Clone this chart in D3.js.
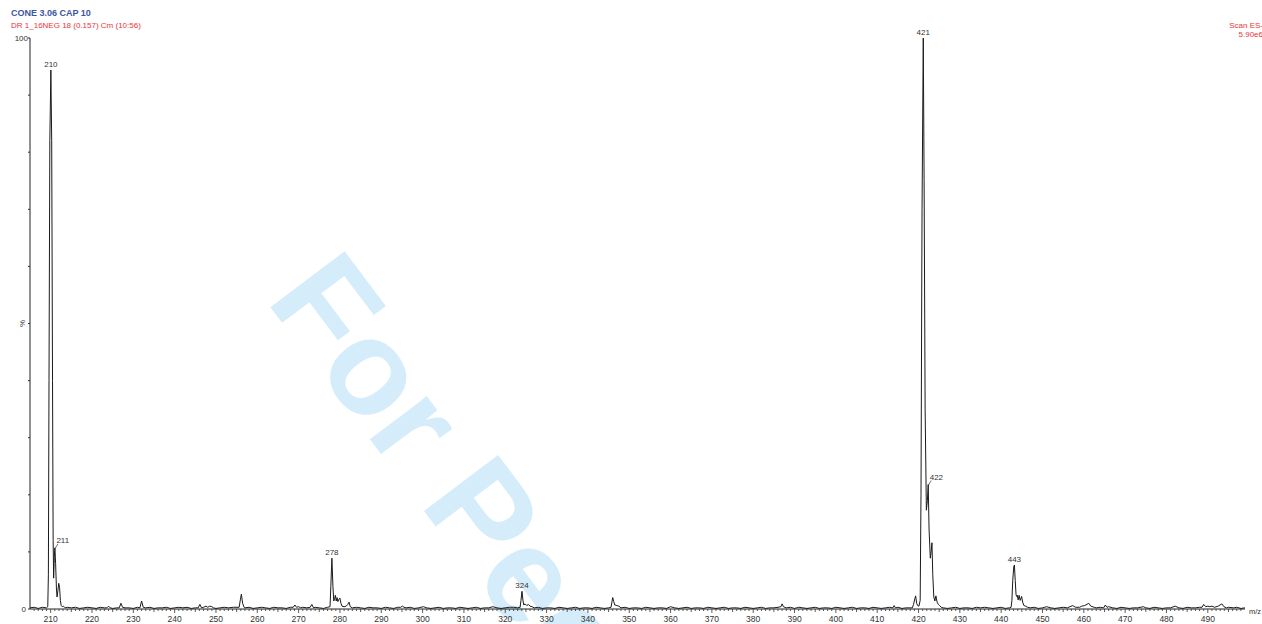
<!DOCTYPE html>
<html>
<head>
<meta charset="utf-8">
<script src="https://cdn.jsdelivr.net/npm/d3@7"></script>
<style>
  html, body { margin: 0; padding: 0; background: #fff; }
  svg { display: block; font-family: "Liberation Sans", Arial, sans-serif; }
</style>
</head>
<body>
<svg id="chart" width="1262" height="624"></svg>
<script>
// Negative-ion ESI scan, m/z vs relative intensity (%)
const titleLine = "CONE 3.06 CAP 10";
const sampleLine = "DR 1_16NEG 18 (0.157) Cm (10:56)";
const scanLines = ["Scan ES-", "5.90e6"];

// profile points: [m/z, relative intensity %]
const spectrum = [
  [205.0,0.2],[206.0,0.3],[207.0,0.1],[208.0,0.3],[209.0,0.2],
  [209.3,0.4],[209.45,6],[209.6,40],[209.8,82],[210.05,94.4],[210.25,82],[210.45,40],[210.6,12],[210.72,5.4],
  [210.88,9],[211.02,10.7],[211.2,8],[211.4,3.5],[211.55,2.1],[211.75,3.2],[211.95,4.5],[212.15,3.8],
  [212.35,1.5],[212.55,0.6],[212.8,0.4],[213.1,0.5],[213.5,0.2],
  [214.0,0.3],[215.0,0.2],[216.0,0.3],[217.0,0.1],[218.0,0.2],[219.0,0.3],[220.0,0.2],[221.0,0.1],[222.0,0.3],[223.0,0.2],
  [223.6,0.2],[224.0,0.5],[224.4,0.2],[225.0,0.1],[226.0,0.2],
  [226.6,0.2],[227.0,1.0],[227.4,0.3],[228.0,0.2],[229.0,0.2],[230.0,0.1],[231.0,0.3],
  [231.6,0.2],[232.0,1.4],[232.4,0.3],[233.0,0.2],[234.0,0.3],[235.0,0.1],[236.0,0.2],[237.0,0.2],[238.0,0.3],
  [239.0,0.1],[240.0,0.2],[241.0,0.3],[242.0,0.2],[243.0,0.3],[244.0,0.1],[245.0,0.2],
  [245.7,0.2],[246.1,0.8],[246.5,0.2],[247.0,0.3],[247.6,0.5],[248.0,0.3],[248.5,0.5],[249.0,0.4],[249.4,0.2],
  [250.0,0.1],[251.0,0.2],[252.0,0.3],[253.0,0.2],[254.2,0.3],
  [255.6,0.3],[255.9,1.6],[256.15,2.6],[256.45,1.0],[256.8,0.3],[257.0,0.2],[258.0,0.3],[259.0,0.1],[260.0,0.2],
  [261.0,0.3],[262.0,0.2],[263.0,0.1],[264.0,0.3],[265.0,0.2],[266.0,0.2],[267.0,0.1],[268.0,0.3],
  [268.7,0.3],[269.1,0.7],[269.5,0.3],[270.0,0.4],[270.5,0.2],[271.0,0.3],[272.0,0.2],
  [272.8,0.3],[273.2,0.8],[273.6,0.2],[274.0,0.3],[275.0,0.2],[276.0,0.1],[277.0,0.3],
  [277.6,0.4],[277.8,4],[278.05,8.9],[278.3,4],[278.5,1.4],[278.7,1.8],[278.9,2.4],[279.1,1.4],[279.3,2.0],
  [279.5,1.3],[279.75,1.7],[280.0,1.9],[280.25,1.0],[280.5,0.5],[281.0,0.4],[281.5,0.5],[281.9,0.8],[282.2,1.2],
  [282.5,0.4],[283.0,0.2],[284.0,0.3],[285.0,0.2],[286.0,0.1],[287.0,0.3],[288.0,0.2],[289.0,0.2],[290.0,0.1],
  [291.0,0.3],[292.0,0.2],[293.0,0.1],[294.0,0.3],[294.7,0.3],[295.1,0.5],[295.5,0.3],[296.0,0.2],[297.0,0.3],
  [298.0,0.1],[299.0,0.2],[300.2,0.4],[301.0,0.2],[302.0,0.1],[303.0,0.2],[304.0,0.3],[305.0,0.1],[306.0,0.2],
  [307.0,0.2],[308.0,0.1],[309.0,0.3],[310.0,0.2],[311.0,0.1],[312.0,0.2],[313.0,0.3],[314.0,0.1],[315.0,0.2],
  [316.0,0.2],[317.0,0.4],[318.0,0.2],[319.0,0.1],[320.0,0.2],[321.0,0.3],[322.0,0.3],[323.0,0.2],
  [323.6,0.3],[323.8,1.5],[324.05,3.1],[324.3,1.4],[324.5,0.7],[324.8,0.9],[325.2,0.6],[325.6,0.8],[326.0,0.5],
  [326.5,0.4],[327.0,0.2],[328.0,0.3],[329.0,0.1],[330.0,0.2],[331.0,0.2],[332.0,0.1],[333.0,0.3],[334.0,0.2],
  [335.0,0.1],[336.0,0.2],[337.0,0.3],[338.0,0.1],[339.0,0.2],[340.0,0.2],[341.0,0.1],[342.0,0.3],[343.0,0.2],
  [344.0,0.1],[345.0,0.2],[345.6,0.3],[345.8,1.2],[346.0,2.0],[346.25,1.3],[346.5,0.7],[347.0,0.6],[347.5,0.5],
  [348.0,0.2],[349.0,0.3],[350.0,0.1],[351.0,0.2],[352.0,0.2],[353.0,0.1],[354.0,0.3],[355.0,0.2],[356.0,0.1],
  [357.0,0.2],[358.0,0.2],[359.0,0.1],[360.0,0.4],[361.0,0.2],[362.0,0.1],[363.0,0.2],[364.0,0.3],[365.0,0.1],
  [366.0,0.2],[367.0,0.2],[368.0,0.1],[369.0,0.3],[370.0,0.2],[371.0,0.1],[372.0,0.2],[373.0,0.3],[374.0,0.1],
  [375.0,0.2],[376.0,0.2],[377.0,0.1],[378.0,0.3],[379.0,0.2],[380.0,0.1],[381.0,0.2],[382.0,0.3],[383.0,0.1],
  [384.0,0.2],[385.0,0.2],[386.0,0.3],[386.7,0.4],[387.0,0.9],[387.3,0.4],[388.0,0.2],[389.0,0.3],[390.0,0.1],
  [391.0,0.3],[392.0,0.2],[393.0,0.1],[394.0,0.2],[395.0,0.3],[396.0,0.1],[397.0,0.2],[398.0,0.2],[399.0,0.1],
  [400.0,0.3],[401.0,0.2],[402.0,0.1],[403.0,0.2],[404.0,0.3],[405.0,0.1],[406.0,0.2],[407.0,0.2],[408.0,0.1],
  [409.0,0.3],[410.0,0.2],[411.0,0.1],[412.0,0.2],[413.0,0.3],[413.8,0.2],[414.1,0.6],[414.4,0.2],[415.0,0.3],
  [416.0,0.1],[417.0,0.2],[418.0,0.2],
  [418.5,0.2],[418.8,0.8],[419.1,1.8],[419.3,2.3],[419.55,1.0],[419.8,0.6],[420.1,0.5],[420.4,1.5],[420.6,20],
  [420.85,70],[421.15,100],[421.35,75],[421.6,35],[421.9,17.3],[422.15,19],[422.35,21.8],[422.55,14],
  [422.85,8.9],[423.05,10],[423.25,11.6],[423.45,6],[423.7,2.1],[423.95,1.4],[424.2,2.3],[424.5,1.2],
  [424.8,0.8],[425.1,0.6],[425.5,0.3],[426.0,0.2],[427.0,0.1],[428.0,0.2],[429.0,0.3],[430.0,0.1],[431.0,0.2],
  [432.0,0.2],[433.0,0.1],[434.0,0.3],[435.0,0.2],[436.0,0.3],[437.0,0.2],[438.0,0.1],[439.0,0.2],[440.0,0.3],
  [441.0,0.1],[442.0,0.2],
  [442.4,0.3],[442.6,1.5],[442.8,5],[443.05,7.4],[443.2,7.7],[443.4,5],[443.6,2.5],[443.75,2.2],[443.9,2.4],
  [444.1,1.6],[444.35,2.4],[444.6,1.5],[444.95,2.2],[445.2,1.2],[445.5,0.6],[445.9,0.5],[446.4,0.3],[447.0,0.2],
  [448.0,0.3],[449.0,0.1],[450.0,0.2],[451.0,0.4],[452.0,0.2],[453.0,0.1],[454.0,0.2],[455.0,0.3],[456.0,0.2],
  [457.3,0.6],[458.0,0.3],[459.0,0.3],[459.5,0.5],[460.2,0.6],[461.2,1.0],[461.7,0.5],[462.5,0.3],[463.0,0.2],
  [464.0,0.3],[464.8,0.2],[465.2,0.7],[465.6,0.3],[466.0,0.4],[467.0,0.2],[468.0,0.1],[469.0,0.3],[470.0,0.2],
  [471.0,0.1],[472.0,0.2],[473.0,0.2],[474.4,0.4],[475.0,0.2],[476.0,0.1],[477.0,0.3],[478.0,0.2],[479.0,0.1],
  [480.0,0.2],[481.0,0.2],[482.1,0.5],[483.0,0.2],[484.0,0.1],[485.0,0.3],[486.0,0.2],[487.0,0.2],[488.0,0.3],
  [488.6,0.3],[489.0,0.8],[489.5,0.4],[490.0,0.5],[490.5,0.4],[491.0,0.5],[491.6,0.3],[492.5,0.5],[493.4,0.9],
  [493.9,0.4],[494.5,0.2],[495.0,0.3],[496.3,0.2],[497.0,0.3],[498.0,0.1],[499.0,0.2]
];

// annotated peaks: label, m/z of the apex, intensity; "lead" labels sit beside the apex with a short leader
const peakLabels = [
  {text: "210", mz: 210.05, pct: 94.4, lead: false},
  {text: "211", mz: 211.02, pct: 10.7, lead: true},
  {text: "278", mz: 278.05, pct: 8.9,  lead: false},
  {text: "324", mz: 324.05, pct: 3.1,  lead: false},
  {text: "421", mz: 421.15, pct: 100,  lead: false},
  {text: "422", mz: 422.35, pct: 21.8, lead: true},
  {text: "443", mz: 443.2,  pct: 7.7,  lead: false}
];

const xTickValues = d3.range(210, 491, 10);
const yTickValues = d3.range(0, 101, 10);

const svg = d3.select("#chart");

const x = d3.scaleLinear().domain([205, 499]).range([30, 1245]);
const y = d3.scaleLinear().domain([0, 100]).range([609, 38]);

// watermark behind the plot
svg.append("text")
  .attr("transform", "translate(265,300) rotate(53)")
  .attr("font-family", "Liberation Sans, Arial, sans-serif")
  .attr("font-weight", "bold")
  .attr("font-size", 135)
  .attr("fill", "#d5edfa")
  .text("For Peer Review");

// header text
svg.append("text").attr("x", 11).attr("y", 16)
  .attr("font-size", 9).attr("font-weight", "bold").attr("fill", "#3b55a3")
  .text(titleLine);
svg.append("text").attr("x", 11).attr("y", 27.5)
  .attr("font-size", 8).attr("fill", "#e8363c")
  .text(sampleLine);
svg.selectAll("text.scan").data(scanLines).join("text")
  .attr("class", "scan")
  .attr("x", 1263).attr("y", (d, i) => 27.5 + i * 9)
  .attr("text-anchor", "end").attr("font-size", 8).attr("fill", "#e8363c")
  .text(d => d);

// x axis: minor ticks every unit, labelled every 10
const gx = svg.append("g").attr("transform", `translate(0,${y(0)})`);
gx.append("line").attr("x1", x.range()[0]).attr("x2", x.range()[1])
  .attr("stroke", "#222").attr("stroke-width", 1);
gx.selectAll("line.minor").data(d3.range(206, 499, 1)).join("line")
  .attr("class", "minor")
  .attr("x1", d => x(d)).attr("x2", d => x(d))
  .attr("y1", 0).attr("y2", d => d % 10 === 0 ? 4 : (d % 5 === 0 ? 3 : 2))
  .attr("stroke", "#333").attr("stroke-width", 0.8);
gx.selectAll("text").data(xTickValues).join("text")
  .attr("x", d => x(d)).attr("y", 13)
  .attr("text-anchor", "middle").attr("font-size", 8.5).attr("fill", "#333")
  .text(d => d);
svg.append("text").attr("x", 1249).attr("y", 614)
  .attr("font-size", 7.5).attr("fill", "#333").text("m/z");

// y axis
const gy = svg.append("g").attr("transform", `translate(${x.range()[0]},0)`);
gy.append("line").attr("y1", y(0)).attr("y2", y(100)).attr("stroke", "#222");
gy.selectAll("line.tick").data(yTickValues).join("line")
  .attr("class", "tick")
  .attr("x1", -2).attr("x2", 0)
  .attr("y1", d => y(d)).attr("y2", d => y(d))
  .attr("stroke", "#333");
gy.append("text").attr("x", -2).attr("y", y(100) + 3)
  .attr("text-anchor", "end").attr("font-size", 8).attr("fill", "#333").text("100");
gy.append("text").attr("x", -4).attr("y", y(0) + 3)
  .attr("text-anchor", "end").attr("font-size", 8).attr("fill", "#333").text("0");
gy.append("text")
  .attr("transform", `translate(-5,${y(50)}) rotate(-90)`)
  .attr("text-anchor", "middle").attr("font-size", 8).attr("fill", "#333").text("%");

// spectrum trace
const line = d3.line().x(d => x(d[0])).y(d => y(d[1]));
svg.append("path").datum(spectrum)
  .attr("d", line)
  .attr("fill", "none").attr("stroke", "#1a1a1a").attr("stroke-width", 1)
  .attr("stroke-linejoin", "round");

// peak labels
const lab = svg.append("g");
peakLabels.forEach(p => {
  const px = x(p.mz), py = y(p.pct);
  if (p.lead) {
    lab.append("line")
      .attr("x1", px).attr("y1", py + 1)
      .attr("x2", px + 3).attr("y2", py - 4)
      .attr("stroke", "#333").attr("stroke-width", 0.7);
    lab.append("text").attr("x", px + 1.5).attr("y", py - 4.5)
      .attr("font-size", 8).attr("fill", "#333").text(p.text);
  } else {
    lab.append("text").attr("x", px).attr("y", py - 3)
      .attr("text-anchor", "middle").attr("font-size", 8).attr("fill", "#333").text(p.text);
  }
});
</script>
</body>
</html>
